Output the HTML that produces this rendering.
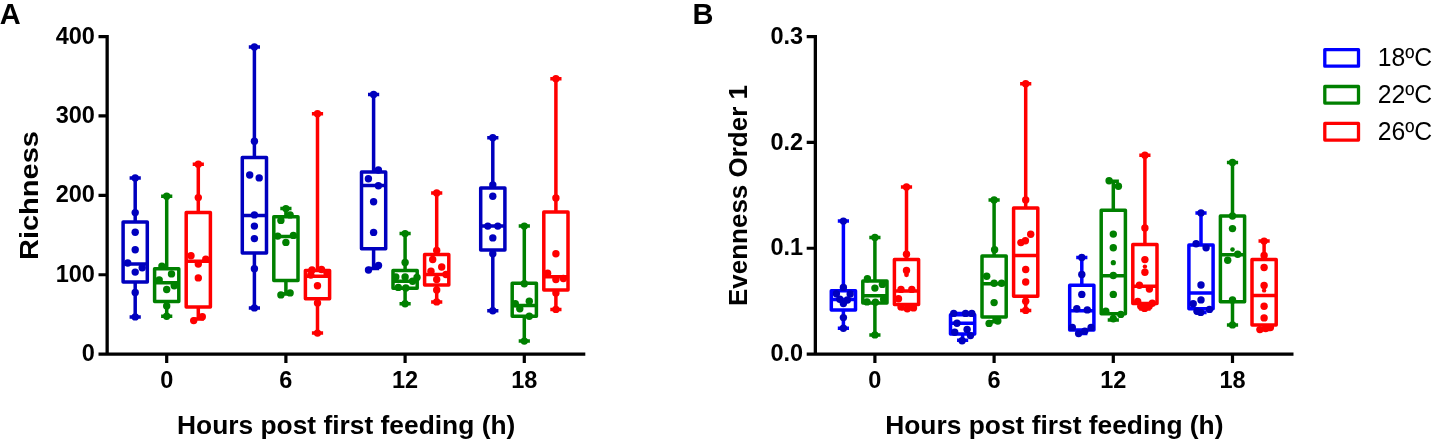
<!DOCTYPE html>
<html><head><meta charset="utf-8"><title>Figure</title>
<style>
html,body{margin:0;padding:0;background:#fff;}
body{width:1434px;height:442px;overflow:hidden;font-family:"Liberation Sans",sans-serif;}
svg{display:block;will-change:transform;}
text{font-family:"Liberation Sans",sans-serif;fill:#000;}
.tk{font-size:23.5px;font-weight:bold;}
.tt{font-size:26px;font-weight:bold;}
.yt{font-size:26px;font-weight:bold;}
.pl{font-size:29px;font-weight:bold;}
.lg{font-size:26px;}
</style></head><body>
<svg width="1434" height="442" viewBox="0 0 1434 442">
<rect width="1434" height="442" fill="#fff"/>
<path d="M107.15 35.1V354.1M98.5 354.1H585.3" fill="none" stroke="#000" stroke-width="3.3" stroke-linecap="butt"/>
<path d="M98.5 36.6H107.15M98.5 115.97H107.15M98.5 195.35H107.15M98.5 274.73H107.15M166.7 354.1V363.1M285.9 354.1V363.1M405.1 354.1V363.1M524.3 354.1V363.1" fill="none" stroke="#000" stroke-width="3.2"/>
<text x="94.9" y="43.7" text-anchor="end" class="tk">400</text>
<text x="94.9" y="123.07" text-anchor="end" class="tk">300</text>
<text x="94.9" y="202.45" text-anchor="end" class="tk">200</text>
<text x="94.9" y="281.83" text-anchor="end" class="tk">100</text>
<text x="94.9" y="361.2" text-anchor="end" class="tk">0</text>
<text x="166.7" y="388.2" text-anchor="middle" class="tk">0</text>
<text x="285.9" y="388.2" text-anchor="middle" class="tk">6</text>
<text x="405.1" y="388.2" text-anchor="middle" class="tk">12</text>
<text x="524.3" y="388.2" text-anchor="middle" class="tk">18</text>
<text x="177" y="434.0" class="tt" textLength="338.3" lengthAdjust="spacingAndGlyphs">Hours post first feeding (h)</text>
<path d="M815.35 35.1V354.1M806.7 354.1H1293.5" fill="none" stroke="#000" stroke-width="3.3" stroke-linecap="butt"/>
<path d="M806.7 36.6H815.35M806.7 142.43H815.35M806.7 248.27H815.35M874.9 354.1V363.1M994.1 354.1V363.1M1113.3 354.1V363.1M1232.5 354.1V363.1" fill="none" stroke="#000" stroke-width="3.2"/>
<text x="803.1" y="43.7" text-anchor="end" class="tk">0.3</text>
<text x="803.1" y="149.53" text-anchor="end" class="tk">0.2</text>
<text x="803.1" y="255.37" text-anchor="end" class="tk">0.1</text>
<text x="803.1" y="361.2" text-anchor="end" class="tk">0.0</text>
<text x="874.9" y="388.2" text-anchor="middle" class="tk">0</text>
<text x="994.1" y="388.2" text-anchor="middle" class="tk">6</text>
<text x="1113.3" y="388.2" text-anchor="middle" class="tk">12</text>
<text x="1232.5" y="388.2" text-anchor="middle" class="tk">18</text>
<text x="885.2" y="434.0" class="tt" textLength="338.3" lengthAdjust="spacingAndGlyphs">Hours post first feeding (h)</text>
<text x="-0.3" y="24.1" class="pl">A</text>
<text x="692.5" y="24.3" class="pl">B</text>
<text transform="translate(37.9 260.0) rotate(-90)" class="yt" style="font-size:26.5px" textLength="128.9" lengthAdjust="spacingAndGlyphs">Richness</text>
<text transform="translate(747.0 306.1) rotate(-90)" class="yt">Evenness Order 1</text>
<path d="M135.2 177.9V222M135.2 282V316.9M129.6 177.9H140.8M129.6 316.9H140.8M123.1 264.1H147.3M123.1 222H147.3V282H123.1Z" fill="none" stroke="#0000BE" stroke-width="3.5" stroke-linejoin="round"/>
<g fill="#0000BE"><circle cx="135.2" cy="177.9" r="3.7"/><circle cx="135.2" cy="212.6" r="3.7"/><circle cx="135.2" cy="232.3" r="3.7"/><circle cx="135.2" cy="249.8" r="3.7"/><circle cx="127.7" cy="263" r="3.7"/><circle cx="142.2" cy="267.8" r="3.7"/><circle cx="135.2" cy="272.1" r="3.7"/><circle cx="135.2" cy="292.4" r="3.7"/><circle cx="135.2" cy="316.9" r="3.7"/></g>
<path d="M166.7 196.2V268.8M166.7 301.5V316.2M161.1 196.2H172.3M161.1 316.2H172.3M154.6 282.8H178.8M154.6 268.8H178.8V301.5H154.6Z" fill="none" stroke="#008000" stroke-width="3.5" stroke-linejoin="round"/>
<g fill="#008000"><circle cx="166.7" cy="196.2" r="3.7"/><circle cx="161.9" cy="266.1" r="3.7"/><circle cx="171.5" cy="273.9" r="3.7"/><circle cx="159.2" cy="279.9" r="3.7"/><circle cx="174.2" cy="285.7" r="3.7"/><circle cx="166.7" cy="289.5" r="3.7"/><circle cx="166.7" cy="306" r="3.7"/><circle cx="166.7" cy="316.2" r="3.7"/></g>
<path d="M198.3 164.2V212.4M198.3 306.9V319M192.7 164.2H203.9M192.7 319H203.9M186.2 261.2H210.4M186.2 212.4H210.4V306.9H186.2Z" fill="none" stroke="#FF0000" stroke-width="3.5" stroke-linejoin="round"/>
<g fill="#FF0000"><circle cx="198.3" cy="164.2" r="3.7"/><circle cx="198.3" cy="197.6" r="3.7"/><circle cx="191" cy="255.8" r="3.7"/><circle cx="205.8" cy="259.2" r="3.7"/><circle cx="198.3" cy="264" r="3.7"/><circle cx="198.3" cy="277.9" r="3.7"/><circle cx="193.7" cy="320.6" r="3.7"/><circle cx="202.3" cy="316.8" r="3.7"/></g>
<path d="M254.4 47V157.5M254.4 253V307.9M248.8 47H260M248.8 307.9H260M242.3 215.6H266.5M242.3 157.5H266.5V253H242.3Z" fill="none" stroke="#0000BE" stroke-width="3.5" stroke-linejoin="round"/>
<g fill="#0000BE"><circle cx="254.4" cy="47" r="3.7"/><circle cx="254.4" cy="141.2" r="3.7"/><circle cx="249.7" cy="175" r="3.7"/><circle cx="259.2" cy="177.9" r="3.7"/><circle cx="254.4" cy="214.9" r="3.7"/><circle cx="254.4" cy="226.1" r="3.7"/><circle cx="254.4" cy="238.6" r="3.7"/><circle cx="254.4" cy="268.7" r="3.7"/><circle cx="254.4" cy="307.9" r="3.7"/></g>
<path d="M285.9 208.6V216.8M285.9 280.5V294M280.3 208.6H291.5M280.3 294H291.5M273.8 236.4H298M273.8 216.8H298V280.5H273.8Z" fill="none" stroke="#008000" stroke-width="3.5" stroke-linejoin="round"/>
<g fill="#008000"><circle cx="285.9" cy="208.6" r="3.7"/><circle cx="290.1" cy="214.9" r="3.7"/><circle cx="280.9" cy="220.4" r="3.7"/><circle cx="277.7" cy="236.1" r="3.7"/><circle cx="293.4" cy="235.4" r="3.7"/><circle cx="285.9" cy="242.4" r="3.7"/><circle cx="280.9" cy="294.9" r="3.7"/><circle cx="290.1" cy="292.9" r="3.7"/></g>
<path d="M317.5 113.7V270.5M317.5 298.7V333.1M311.9 113.7H323.1M311.9 333.1H323.1M305.4 276.2H329.6M305.4 270.5H329.6V298.7H305.4Z" fill="none" stroke="#FF0000" stroke-width="3.5" stroke-linejoin="round"/>
<g fill="#FF0000"><circle cx="317.5" cy="113.7" r="3.7"/><circle cx="312" cy="270" r="3.7"/><circle cx="321.5" cy="269.5" r="3.7"/><circle cx="327" cy="273" r="3.7"/><circle cx="310.8" cy="275" r="3.7"/><circle cx="317.5" cy="285.7" r="3.7"/><circle cx="317.5" cy="302.9" r="3.7"/><circle cx="317.5" cy="333.1" r="3.7"/></g>
<path d="M373.6 94.4V172M373.6 248.7V268.5M368 94.4H379.2M368 268.5H379.2M361.5 185.4H385.7M361.5 172H385.7V248.7H361.5Z" fill="none" stroke="#0000BE" stroke-width="3.5" stroke-linejoin="round"/>
<g fill="#0000BE"><circle cx="373.6" cy="94.4" r="3.7"/><circle cx="378.4" cy="170" r="3.7"/><circle cx="368.4" cy="178.7" r="3.7"/><circle cx="378.4" cy="185.7" r="3.7"/><circle cx="373.6" cy="201.7" r="3.7"/><circle cx="373.6" cy="232.4" r="3.7"/><circle cx="368.5" cy="270" r="3.7"/><circle cx="378.5" cy="265.4" r="3.7"/></g>
<path d="M405.1 233.6V270.5M405.1 288.2V303.7M399.5 233.6H410.7M399.5 303.7H410.7M393 281.2H417.2M393 270.5H417.2V288.2H393Z" fill="none" stroke="#008000" stroke-width="3.5" stroke-linejoin="round"/>
<g fill="#008000"><circle cx="405.1" cy="233.6" r="3.7"/><circle cx="405.1" cy="262.5" r="3.7"/><circle cx="395.8" cy="277" r="3.7"/><circle cx="405.1" cy="277" r="3.7"/><circle cx="417" cy="277.5" r="3.7"/><circle cx="412.6" cy="281.2" r="3.7"/><circle cx="398.3" cy="287.4" r="3.7"/><circle cx="405.8" cy="288" r="3.7"/><circle cx="405.1" cy="303.7" r="3.7"/></g>
<path d="M436.7 192.9V254.5M436.7 285V301.9M431.1 192.9H442.3M431.1 301.9H442.3M424.6 274.5H448.8M424.6 254.5H448.8V285H424.6Z" fill="none" stroke="#FF0000" stroke-width="3.5" stroke-linejoin="round"/>
<g fill="#FF0000"><circle cx="436.7" cy="192.9" r="3.7"/><circle cx="436.7" cy="250.5" r="3.7"/><circle cx="432.7" cy="259.5" r="3.7"/><circle cx="441.7" cy="267" r="3.7"/><circle cx="431" cy="271.2" r="3.7"/><circle cx="446" cy="274.5" r="3.7"/><circle cx="436.7" cy="279.5" r="3.7"/><circle cx="436.7" cy="290" r="3.7"/><circle cx="436.7" cy="301.9" r="3.7"/></g>
<path d="M492.8 137.8V188.1M492.8 250V310.7M487.2 137.8H498.4M487.2 310.7H498.4M480.7 226.1H504.9M480.7 188.1H504.9V250H480.7Z" fill="none" stroke="#0000BE" stroke-width="3.5" stroke-linejoin="round"/>
<g fill="#0000BE"><circle cx="492.8" cy="137.8" r="3.7"/><circle cx="492.8" cy="184.9" r="3.7"/><circle cx="492.8" cy="196.2" r="3.7"/><circle cx="487.8" cy="226.1" r="3.7"/><circle cx="497.8" cy="226.1" r="3.7"/><circle cx="492.8" cy="237.9" r="3.7"/><circle cx="492.8" cy="253.7" r="3.7"/><circle cx="492.8" cy="310.7" r="3.7"/></g>
<path d="M524.3 226.1V283.2M524.3 316.2V341.1M518.7 226.1H529.9M518.7 341.1H529.9M512.2 305.4H536.4M512.2 283.2H536.4V316.2H512.2Z" fill="none" stroke="#008000" stroke-width="3.5" stroke-linejoin="round"/>
<g fill="#008000"><circle cx="524.3" cy="226.1" r="3.7"/><circle cx="524.3" cy="283.7" r="3.7"/><circle cx="529.3" cy="301.2" r="3.7"/><circle cx="515.3" cy="303.7" r="3.7"/><circle cx="519.8" cy="308.7" r="3.7"/><circle cx="529.3" cy="316.2" r="3.7"/><circle cx="524.3" cy="341.1" r="3.7"/></g>
<path d="M555.9 78.7V211.9M555.9 290V309.4M550.3 78.7H561.5M550.3 309.4H561.5M543.8 276.8H568M543.8 211.9H568V290H543.8Z" fill="none" stroke="#FF0000" stroke-width="3.5" stroke-linejoin="round"/>
<g fill="#FF0000"><circle cx="555.9" cy="78.7" r="3.7"/><circle cx="555.9" cy="197.9" r="3.7"/><circle cx="555.9" cy="253.7" r="3.7"/><circle cx="547.6" cy="273.2" r="3.7"/><circle cx="563.4" cy="278.5" r="3.7"/><circle cx="555.9" cy="279.5" r="3.7"/><circle cx="555.9" cy="292.9" r="3.7"/><circle cx="555.9" cy="309.4" r="3.7"/></g>
<path d="M843.4 221.1V290.7M843.4 309.9V328.2M837.8 221.1H849M837.8 328.2H849M831.3 299.6H855.5M831.3 290.7H855.5V309.9H831.3Z" fill="none" stroke="#0000FF" stroke-width="3.5" stroke-linejoin="round"/>
<g fill="#0000BE"><circle cx="843.4" cy="221.1" r="3.7"/><circle cx="843.4" cy="287.4" r="3.7"/><circle cx="836.4" cy="293.8" r="3.7"/><circle cx="850.2" cy="294" r="3.7"/><circle cx="839.8" cy="299.3" r="3.7"/><circle cx="847.4" cy="300" r="3.7"/><circle cx="843.4" cy="303.6" r="3.7"/><circle cx="843.4" cy="317.6" r="3.7"/><circle cx="843.4" cy="328.2" r="3.7"/></g>
<path d="M874.9 237.4V281M874.9 302.9V334.9M869.3 237.4H880.5M869.3 334.9H880.5M862.8 295.7H887M862.8 281H887V302.9H862.8Z" fill="none" stroke="#008000" stroke-width="3.5" stroke-linejoin="round"/>
<g fill="#008000"><circle cx="874.9" cy="237.4" r="3.7"/><circle cx="867.4" cy="278.7" r="3.7"/><circle cx="874.9" cy="288.1" r="3.7"/><circle cx="882.4" cy="284.4" r="3.7"/><circle cx="867" cy="301.9" r="3.7"/><circle cx="875.4" cy="302.2" r="3.7"/><circle cx="883.6" cy="299.2" r="3.7"/><circle cx="874.9" cy="334.9" r="3.7"/></g>
<path d="M906.5 186.9V259.5M906.5 304.4V308.7M900.9 186.9H912.1M900.9 308.7H912.1M894.4 291H918.6M894.4 259.5H918.6V304.4H894.4Z" fill="none" stroke="#FF0000" stroke-width="3.5" stroke-linejoin="round"/>
<g fill="#FF0000"><circle cx="906.5" cy="186.9" r="3.7"/><circle cx="906.5" cy="254.3" r="3.7"/><circle cx="906.5" cy="270.4" r="3.7"/><circle cx="906.5" cy="274.8" r="2.4"/><circle cx="901" cy="289.4" r="3.7"/><circle cx="911.8" cy="289.4" r="3.7"/><circle cx="898.5" cy="298.7" r="3.7"/><circle cx="901" cy="306.9" r="3.7"/><circle cx="907.3" cy="308.7" r="3.7"/><circle cx="913.5" cy="307.9" r="3.7"/></g>
<path d="M962.6 313.4V314.7M962.6 334V340.2M957 313.4H968.2M957 340.2H968.2M950.5 323.2H974.7M950.5 314.7H974.7V334H950.5Z" fill="none" stroke="#0000FF" stroke-width="3.5" stroke-linejoin="round"/>
<g fill="#0000BE"><circle cx="953.7" cy="313.4" r="3.7"/><circle cx="965.6" cy="313.4" r="3.7"/><circle cx="971.8" cy="313.4" r="3.7"/><circle cx="957" cy="323.2" r="3.7"/><circle cx="954.7" cy="332.2" r="3.7"/><circle cx="967.1" cy="329.4" r="3.7"/><circle cx="970.5" cy="335.6" r="3.7"/><circle cx="962.1" cy="340.7" r="3.7"/></g>
<path d="M994.1 199.9V256.1M994.1 316.9V321.8M988.5 199.9H999.7M988.5 321.8H999.7M982 283.8H1006.2M982 256.1H1006.2V316.9H982Z" fill="none" stroke="#008000" stroke-width="3.5" stroke-linejoin="round"/>
<g fill="#008000"><circle cx="994.1" cy="199.9" r="3.7"/><circle cx="994.6" cy="249.7" r="3.7"/><circle cx="986.7" cy="276.2" r="3.7"/><circle cx="994.1" cy="283.2" r="3.7"/><circle cx="1001.6" cy="283.2" r="3.7"/><circle cx="994.1" cy="302.6" r="3.7"/><circle cx="989.1" cy="323.4" r="3.7"/><circle cx="997.8" cy="321" r="3.7"/></g>
<path d="M1025.7 83.7V208.1M1025.7 296.2V310.4M1020.1 83.7H1031.3M1020.1 310.4H1031.3M1013.6 255.5H1037.8M1013.6 208.1H1037.8V296.2H1013.6Z" fill="none" stroke="#FF0000" stroke-width="3.5" stroke-linejoin="round"/>
<g fill="#FF0000"><circle cx="1025.7" cy="83.7" r="3.7"/><circle cx="1025.7" cy="199.9" r="3.7"/><circle cx="1030.7" cy="234.3" r="3.7"/><circle cx="1025.4" cy="240.8" r="3.7"/><circle cx="1020.9" cy="242.6" r="3.7"/><circle cx="1025.7" cy="269.5" r="3.7"/><circle cx="1025.7" cy="282" r="3.7"/><circle cx="1025.7" cy="301.2" r="3.7"/><circle cx="1025.7" cy="310.4" r="3.7"/></g>
<path d="M1081.8 257.5V285.2M1081.8 329.9V333.6M1076.2 257.5H1087.4M1076.2 333.6H1087.4M1069.7 310.7H1093.9M1069.7 285.2H1093.9V329.9H1069.7Z" fill="none" stroke="#0000FF" stroke-width="3.5" stroke-linejoin="round"/>
<g fill="#0000BE"><circle cx="1081.8" cy="257.5" r="3.7"/><circle cx="1081.8" cy="274.5" r="3.7"/><circle cx="1081.8" cy="294.4" r="3.7"/><circle cx="1076.8" cy="308.7" r="3.7"/><circle cx="1087.3" cy="309.9" r="3.7"/><circle cx="1072.3" cy="327.4" r="3.7"/><circle cx="1091.1" cy="327.4" r="3.7"/><circle cx="1084.8" cy="331.1" r="3.7"/><circle cx="1078.6" cy="333.6" r="3.7"/></g>
<path d="M1113.3 181.2V210.3M1113.3 313.7V319.9M1107.7 181.2H1118.9M1107.7 319.9H1118.9M1101.2 275.7H1125.4M1101.2 210.3H1125.4V313.7H1101.2Z" fill="none" stroke="#008000" stroke-width="3.5" stroke-linejoin="round"/>
<g fill="#008000"><circle cx="1109.1" cy="180.7" r="3.7"/><circle cx="1118.4" cy="186.2" r="3.7"/><circle cx="1113.3" cy="234.1" r="3.7"/><circle cx="1113.3" cy="247.8" r="3.7"/><circle cx="1113.3" cy="262.7" r="2.6"/><circle cx="1113.3" cy="275.5" r="3.7"/><circle cx="1113.3" cy="294.4" r="3.7"/><circle cx="1105.8" cy="311.2" r="3.7"/><circle cx="1120.8" cy="314.4" r="3.7"/><circle cx="1113.3" cy="318.7" r="3.7"/></g>
<path d="M1144.9 155.2V244.4M1144.9 303.4V309M1139.3 155.2H1150.5M1139.3 309H1150.5M1132.8 286.2H1157M1132.8 244.4H1157V303.4H1132.8Z" fill="none" stroke="#FF0000" stroke-width="3.5" stroke-linejoin="round"/>
<g fill="#FF0000"><circle cx="1144.9" cy="155.2" r="3.7"/><circle cx="1144.9" cy="227.9" r="3.7"/><circle cx="1144.9" cy="259.6" r="3.7"/><circle cx="1144.9" cy="272.2" r="3.7"/><circle cx="1144.9" cy="266.6" r="2.2"/><circle cx="1139.4" cy="285.2" r="3.7"/><circle cx="1149.4" cy="289" r="3.7"/><circle cx="1137.7" cy="301.4" r="3.7"/><circle cx="1152.3" cy="303.3" r="3.7"/><circle cx="1144.6" cy="308.4" r="3.7"/><circle cx="1149.1" cy="306.3" r="3.7"/><circle cx="1140.8" cy="306.3" r="3.7"/></g>
<path d="M1201 212.9V245.1M1201 308.7V312.4M1195.4 212.9H1206.6M1195.4 312.4H1206.6M1188.9 292.9H1213.1M1188.9 245.1H1213.1V308.7H1188.9Z" fill="none" stroke="#0000FF" stroke-width="3.5" stroke-linejoin="round"/>
<g fill="#0000BE"><circle cx="1201" cy="212.9" r="3.7"/><circle cx="1196.1" cy="243.8" r="3.7"/><circle cx="1206.1" cy="247.7" r="3.7"/><circle cx="1201" cy="285" r="3.7"/><circle cx="1201" cy="299.9" r="3.7"/><circle cx="1193.2" cy="303.7" r="3.7"/><circle cx="1200.7" cy="312.4" r="3.7"/><circle cx="1209.5" cy="309.4" r="3.7"/><circle cx="1197" cy="311.2" r="3.7"/></g>
<path d="M1232.5 162.5V215.9M1232.5 301.7V325.1M1226.9 162.5H1238.1M1226.9 325.1H1238.1M1220.4 254.8H1244.6M1220.4 215.9H1244.6V301.7H1220.4Z" fill="none" stroke="#008000" stroke-width="3.5" stroke-linejoin="round"/>
<g fill="#008000"><circle cx="1232.5" cy="162.5" r="3.7"/><circle cx="1232.5" cy="216" r="3.7"/><circle cx="1232.5" cy="228.6" r="3.7"/><circle cx="1232.5" cy="249.5" r="2.3"/><circle cx="1237.7" cy="254.2" r="3.7"/><circle cx="1227.7" cy="260.3" r="3.7"/><circle cx="1232.5" cy="299.9" r="3.7"/><circle cx="1232.5" cy="324.9" r="3.7"/></g>
<path d="M1264.1 241.1V259.5M1264.1 325.1V329.4M1258.5 241.1H1269.7M1258.5 329.4H1269.7M1252 295.4H1276.2M1252 259.5H1276.2V325.1H1252Z" fill="none" stroke="#FF0000" stroke-width="3.5" stroke-linejoin="round"/>
<g fill="#FF0000"><circle cx="1264.1" cy="241.1" r="3.7"/><circle cx="1264.1" cy="255.4" r="3.7"/><circle cx="1264.1" cy="267.5" r="3.7"/><circle cx="1264.1" cy="285.4" r="3.7"/><circle cx="1264.1" cy="290.4" r="2.2"/><circle cx="1264.1" cy="306.2" r="3.7"/><circle cx="1264.1" cy="317.9" r="3.7"/><circle cx="1259.9" cy="329.6" r="3.7"/><circle cx="1265.6" cy="328.6" r="3.7"/><circle cx="1270.4" cy="327.6" r="3.7"/></g>
<rect x="1324.8" y="49.55" width="33.7" height="16.6" fill="none" stroke="#0000FF" stroke-width="3.3" stroke-linejoin="round"/>
<text x="1377.75" y="66.45" class="lg" textLength="54.4" lengthAdjust="spacingAndGlyphs">18ºC</text>
<rect x="1324.8" y="86.5" width="33.7" height="16.6" fill="none" stroke="#008000" stroke-width="3.3" stroke-linejoin="round"/>
<text x="1377.75" y="103.4" class="lg" textLength="54.4" lengthAdjust="spacingAndGlyphs">22ºC</text>
<rect x="1324.8" y="123.45" width="33.7" height="16.6" fill="none" stroke="#FF0000" stroke-width="3.3" stroke-linejoin="round"/>
<text x="1377.75" y="140.35" class="lg" textLength="54.4" lengthAdjust="spacingAndGlyphs">26ºC</text>
</svg>
</body></html>
